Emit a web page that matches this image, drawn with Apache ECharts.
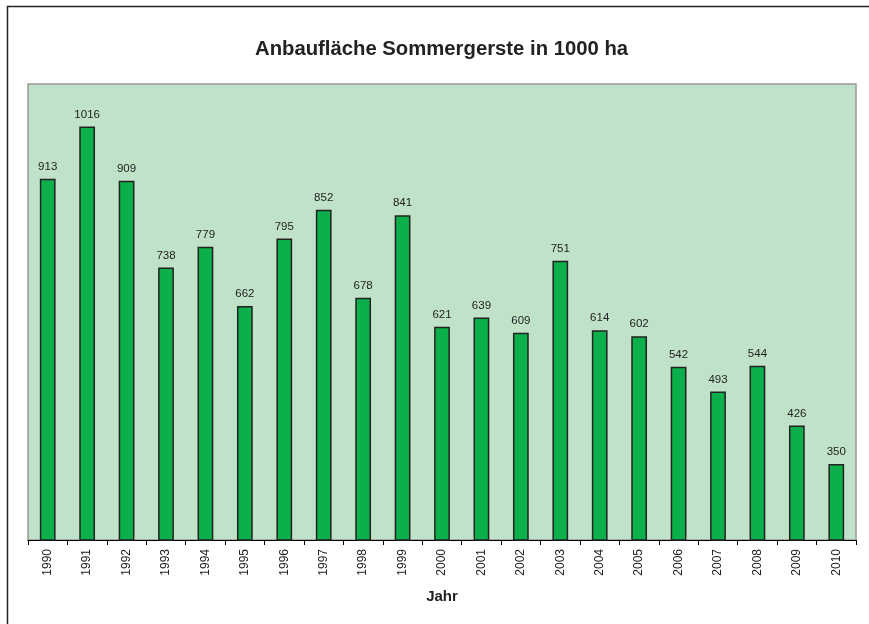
<!DOCTYPE html>
<html>
<head>
<meta charset="utf-8">
<script src="https://cdn.jsdelivr.net/npm/echarts@6/dist/echarts.min.js"></script>
<style>
    html, body { margin: 0; padding: 0; background: #fff; }
    #main { width: 869px; height: 624px; }
</style>
</head>
<body>
<div id="main"></div>
<script>
var years = ['1990', '1991', '1992', '1993', '1994', '1995', '1996', '1997', '1998', '1999', '2000',
    '2001', '2002', '2003', '2004', '2005', '2006', '2007', '2008', '2009', '2010'];
var areas = [913, 1016, 909, 738, 779, 662, 795, 852, 678, 841, 621,
    639, 609, 751, 614, 602, 542, 493, 544, 426, 350];

~function () {
    var myChart = echarts.init(document.getElementById('main'));
    var option = {
        animation: false,
        textStyle: { fontFamily: 'Liberation Sans, Arial, sans-serif' },
        title: {
            text: 'Anbaufläche Sommergerste in 1000 ha',
            left: 250,
            top: 34,
            textStyle: { fontSize: 20.3, fontWeight: 'bold', color: '#222' }
        },
        graphic: [
            {
                // outer chart frame, right and bottom edges fall outside the picture
                type: 'rect',
                shape: { x: 7.5, y: 6.5, width: 900, height: 700 },
                style: { fill: 'none', stroke: '#222', lineWidth: 1.5 },
                z: -1
            }
        ],
        grid: {
            left: 28,
            top: 84,
            right: 13,
            bottom: 84,
            show: true,
            backgroundColor: '#c0e2c8',
            borderColor: '#999',
            borderWidth: 1.5
        },
        xAxis: {
            type: 'category',
            data: years,
            name: 'Jahr',
            nameLocation: 'middle',
            nameGap: 49,
            nameTextStyle: { fontSize: 15, fontWeight: 'bold', color: '#222' },
            axisLine: { lineStyle: { color: '#000', width: 1 } },
            axisTick: { show: true, length: 5, lineStyle: { color: '#000', width: 1 } },
            axisLabel: { rotate: 90, fontSize: 12, color: '#222', margin: 9, interval: 0 }
        },
        yAxis: {
            type: 'value',
            min: 200,
            max: 1100,
            show: false,
            splitLine: { show: false }
        },
        series: [
            {
                type: 'bar',
                data: areas,
                barWidth: '40%',
                itemStyle: { color: '#0cb04a', borderColor: '#222', borderWidth: 1.5 },
                label: { show: true, position: 'top', distance: 6, fontSize: 11.5, color: '#222' }
            }
        ]
    };
    myChart.setOption(option);
}();
</script>
</body>
</html>
